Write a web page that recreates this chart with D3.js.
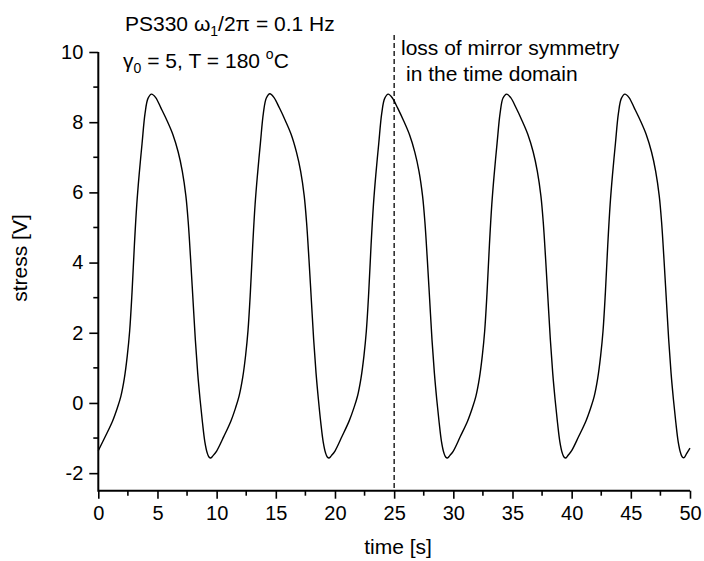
<!DOCTYPE html>
<html>
<head>
<meta charset="utf-8">
<script src="https://cdn.jsdelivr.net/npm/d3@7"></script>
<style>
  html, body { margin: 0; padding: 0; background: #fff; }
  svg { display: block; }
  text { font-family: "Liberation Sans", Arial, Helvetica, sans-serif; fill: #000; }
</style>
</head>
<body>
<svg id="chart" width="704" height="561"></svg>
<script>
// ---- data ----
const time = [
  0, 0.6, 1.2, 1.6, 1.9, 2.2, 2.45, 2.65, 2.85, 3.05, 3.25, 3.45, 3.7, 3.95, 4.2, 4.5, 4.85, 5.3, 5.8, 6.3, 6.75, 7.1, 7.4, 7.6, 7.8, 8.0, 8.2, 8.4, 8.6, 8.8, 9.0, 9.2, 9.35, 9.5, 9.7,
  10, 10.6, 11.2, 11.6, 11.9, 12.2, 12.45, 12.65, 12.85, 13.05, 13.25, 13.45, 13.7, 13.95, 14.2, 14.5, 14.85, 15.3, 15.8, 16.3, 16.75, 17.1, 17.4, 17.6, 17.8, 18.0, 18.2, 18.4, 18.6, 18.8, 19.0, 19.2, 19.35, 19.5, 19.7,
  20, 20.6, 21.2, 21.6, 21.9, 22.2, 22.45, 22.65, 22.85, 23.05, 23.25, 23.45, 23.7, 23.95, 24.2, 24.5, 24.85, 25.3, 25.8, 26.3, 26.75, 27.1, 27.4, 27.6, 27.8, 28.0, 28.2, 28.4, 28.6, 28.8, 29.0, 29.2, 29.35, 29.5, 29.7,
  30, 30.6, 31.2, 31.6, 31.9, 32.2, 32.45, 32.65, 32.85, 33.05, 33.25, 33.45, 33.7, 33.95, 34.2, 34.5, 34.85, 35.3, 35.8, 36.3, 36.75, 37.1, 37.4, 37.6, 37.8, 38.0, 38.2, 38.4, 38.6, 38.8, 39.0, 39.2, 39.35, 39.5, 39.7,
  40, 40.6, 41.2, 41.6, 41.9, 42.2, 42.45, 42.65, 42.85, 43.05, 43.25, 43.45, 43.7, 43.95, 44.2, 44.5, 44.85, 45.3, 45.8, 46.3, 46.75, 47.1, 47.4, 47.6, 47.8, 48.0, 48.2, 48.4, 48.6, 48.8, 49.0, 49.2, 49.35, 49.5, 49.7,
  50
];
const stress = [
  -1.36, -0.95, -0.52, -0.15, 0.18, 0.7, 1.35, 2.05, 3.15, 4.5, 5.65, 6.5, 7.4, 8.25, 8.68, 8.8, 8.7, 8.4, 8.05, 7.65, 7.15, 6.6, 5.9, 5.15, 4.1, 2.95, 1.8, 0.85, 0.1, -0.55, -1.1, -1.42, -1.54, -1.57, -1.5,
  -1.37, -0.96, -0.52, -0.14, 0.2, 0.72, 1.36, 2.06, 3.15, 4.5, 5.66, 6.5, 7.41, 8.26, 8.69, 8.81, 8.7, 8.41, 8.05, 7.65, 7.14, 6.6, 5.9, 5.14, 4.1, 2.95, 1.8, 0.85, 0.1, -0.56, -1.1, -1.42, -1.54, -1.57, -1.5,
  -1.37, -0.95, -0.51, -0.14, 0.19, 0.71, 1.35, 2.05, 3.14, 4.5, 5.65, 6.5, 7.4, 8.25, 8.68, 8.8, 8.69, 8.4, 8.04, 7.64, 7.14, 6.6, 5.9, 5.15, 4.1, 2.95, 1.79, 0.85, 0.1, -0.55, -1.1, -1.42, -1.54, -1.57, -1.5,
  -1.37, -0.95, -0.52, -0.15, 0.18, 0.7, 1.35, 2.05, 3.15, 4.5, 5.65, 6.5, 7.41, 8.25, 8.69, 8.8, 8.7, 8.41, 8.05, 7.65, 7.15, 6.6, 5.9, 5.15, 4.1, 2.95, 1.8, 0.85, 0.1, -0.55, -1.1, -1.42, -1.54, -1.57, -1.49,
  -1.36, -0.95, -0.52, -0.15, 0.18, 0.7, 1.35, 2.05, 3.15, 4.5, 5.65, 6.5, 7.4, 8.25, 8.68, 8.8, 8.7, 8.4, 8.05, 7.65, 7.15, 6.6, 5.9, 5.15, 4.1, 2.95, 1.8, 0.85, 0.1, -0.55, -1.1, -1.42, -1.54, -1.56, -1.45,
  -1.29
];
const xTicks = [0, 5, 10, 15, 20, 25, 30, 35, 40, 45, 50];
const xMinorTicks = [2.5, 7.5, 12.5, 17.5, 22.5, 27.5, 32.5, 37.5, 42.5, 47.5];
const yTicks = [-2, 0, 2, 4, 6, 8, 10];
const yMinorTicks = [-1, 1, 3, 5, 7, 9];
const markerTime = 25;
const xTitle = "time [s]";
const yTitle = "stress [V]";
const noteLines = ["loss of mirror symmetry", "in the time domain"];

// ---- chart ----
const svg = d3.select("#chart");
const x = d3.scaleLinear().domain([0, 50]).range([98.3, 690]);
const y = d3.scaleLinear().domain([-2.5, 10]).range([490.7, 52]);
const fmt = d => String(d); // plain hyphen-minus like the original

const pts = time.map((t, i) => [t, stress[i]]);
const line = d3.line().x(d => x(d[0])).y(d => y(d[1])).curve(d3.curveCatmullRom.alpha(0.5));

// dashed marker
svg.append("line")
  .attr("x1", x(markerTime)).attr("x2", x(markerTime))
  .attr("y1", 35).attr("y2", y(-2.5))
  .attr("stroke", "#000").attr("stroke-width", 1.3)
  .attr("stroke-dasharray", "5,3");

// curve
svg.append("path")
  .datum(pts)
  .attr("d", line)
  .attr("fill", "none")
  .attr("stroke", "#000")
  .attr("stroke-width", 1.4)
  .attr("stroke-linejoin", "round");

// x axis
const xAxis = svg.append("g").attr("transform", `translate(0,${y(-2.5)})`)
  .call(d3.axisBottom(x).tickValues(xTicks).tickSize(8).tickPadding(7).tickFormat(fmt));
xAxis.append("g").selectAll("line").data(xMinorTicks).join("line")
  .attr("x1", d => x(d)).attr("x2", d => x(d)).attr("y1", 0).attr("y2", 5)
  .attr("stroke", "#000").attr("stroke-width", 1.6);

// y axis
const yAxis = svg.append("g").attr("transform", `translate(${x(0)},0)`)
  .call(d3.axisLeft(y).tickValues(yTicks).tickSize(9).tickPadding(6).tickFormat(fmt));
yAxis.append("g").selectAll("line").data(yMinorTicks).join("line")
  .attr("x1", 0).attr("x2", -5).attr("y1", d => y(d)).attr("y2", d => y(d))
  .attr("stroke", "#000").attr("stroke-width", 1.6);

[xAxis, yAxis].forEach(g => {
  g.selectAll(".tick line").attr("stroke", "#000").attr("stroke-width", 1.6);
  g.selectAll(".tick text").attr("font-size", 20).attr("font-family", "Liberation Sans, Arial, sans-serif").attr("fill", "#000");
  g.select(".domain").remove();
});
// axis lines
svg.append("line").attr("x1", x(0)).attr("x2", x(50)).attr("y1", y(-2.5)).attr("y2", y(-2.5))
  .attr("stroke", "#000").attr("stroke-width", 2);
svg.append("line").attr("x1", x(0)).attr("x2", x(0)).attr("y1", y(10)).attr("y2", y(-2.5) + 1)
  .attr("stroke", "#000").attr("stroke-width", 2);

// axis titles
svg.append("text").attr("x", 398).attr("y", 554).attr("text-anchor", "middle")
  .attr("font-size", 21).text(xTitle);
svg.append("text").attr("transform", "translate(27,258) rotate(-90)").attr("text-anchor", "middle")
  .attr("font-size", 21).text(yTitle);

// annotations
const t1 = svg.append("text").attr("x", 125).attr("y", 31).attr("font-size", 21);
t1.append("tspan").text("PS330 ω");
t1.append("tspan").attr("font-size", 14).attr("dy", 5).text("1");
t1.append("tspan").attr("dy", -5).text("/2π = 0.1 Hz");

const t2 = svg.append("text").attr("x", 123).attr("y", 68).attr("font-size", 21);
t2.append("tspan").text("γ");
t2.append("tspan").attr("font-size", 14).attr("dy", 5).text("0");
t2.append("tspan").attr("dy", -5).text(" = 5, T = 180 ");
t2.append("tspan").attr("font-size", 14).attr("dy", -9).text("o");
t2.append("tspan").attr("dy", 9).text("C");

svg.append("text").attr("x", 401).attr("y", 55).attr("font-size", 21).text(noteLines[0]);
svg.append("text").attr("x", 406).attr("y", 81).attr("font-size", 21).text(noteLines[1]);
</script>
</body>
</html>
